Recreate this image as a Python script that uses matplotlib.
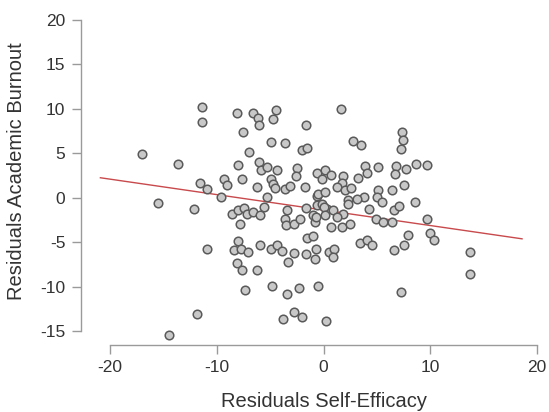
import numpy as np
import matplotlib
matplotlib.use("Agg")
import matplotlib.pyplot as plt

# residuals
self_efficacy = [
    -11.4, -11.34, -17.0, -13.65, -11.56, -10.93, -15.46, -12.12, -10.93, -11.87, -14.46,
    -8.12, -6.56, -6.09, -6.0, -4.46, -4.69, -1.62, -7.5, -4.93, -3.59, -2.02, -1.56,
    -6.94, -7.97, -6.0, -5.87, -5.3, -4.37, -2.44, -2.56, -0.62, -9.31, -9.05, -7.65,
    -4.93, -4.74, -6.24, -4.53, -3.59, -3.12, -1.72, -9.62, -5.3, -0.62, -0.62, -5.62,
    -1.62, -3.43, -8.59, -7.97, -7.43, -7.18, -6.62, -5.93, -7.81, -3.59, -3.5, -2.81,
    -2.18, -0.94, -0.78,
    -7.97, -8.43, -7.74, -7.03, -5.93, -4.93, -4.31, -3.9, -2.81, -1.62, -1.5, -0.99,
    -0.68, -0.78, -3.28, -8.06, -7.59, -6.19, -7.34, -4.78, -3.43, -2.34, -0.56, -3.84,
    -2.81, -1.97,
    1.66, 2.72, 3.5, 7.35, 7.44, 7.28, 0.16, -0.15, 0.69, 1.82, 1.72, 1.31, 2.03, 2.57,
    3.19, 3.91, 4.07, 5.15, 6.81, 6.72, 7.75, 8.69, 9.69, 7.56, 6.41, 5.06, 5.0, 5.47,
    4.22, 3.75, 3.13, 2.34, -0.56, 0.16, -0.15, 0.32, 0.88, 1.87, 8.59, 6.56, 7.03,
    4.94, 5.62, 6.41, 9.69, 0.69, 1.72, 2.5, -0.68,
    0.0, 0.16, 1.26, 2.34, 0.47, 1.0, 0.88, 3.44, 4.07, 4.54, 6.56, 7.5, 7.87, 0.22, 7.28,
    10.0, 10.31, 13.75, 13.75,
]
academic_burnout = [
    10.2, 8.5, 4.9, 3.75, 1.64, 1.01, -0.6, -1.24, -5.74, -13.06, -15.5,
    9.53, 9.53, 9.0, 8.2, 9.9, 8.9, 8.14, 7.39, 6.26, 6.15, 5.33, 5.63,
    5.14, 3.64, 4.0, 3.15, 3.45, 3.15, 3.33, 2.43, 2.77, 2.14, 1.39, 2.14,
    2.14, 1.58, 1.19, 1.13, 1.01, 1.27, 1.19, 0.07, 0.07, 0.15, -0.87, -1.06,
    -1.17, -1.35, -1.8, -1.35, -1.13, -1.8, -1.62, -1.99, -2.93, -2.36, -3.12, -2.93,
    -2.36, -1.99, -2.74,
    -4.89, -5.93, -5.74, -6.13, -5.37, -5.74, -5.37, -6.01, -6.24, -6.31, -4.5, -4.36,
    -5.74, -6.87, -7.25, -7.36, -8.11, -8.11, -10.44, -9.88, -10.81, -10.18, -9.99, -13.63,
    -12.88, -13.37,
    9.94, 6.37, 5.89, 7.39, 6.45, 5.52, 3.07, 2.14, 2.51, 2.4, 1.64, 1.19, 0.9, 1.08,
    2.25, 3.52, 2.77, 3.45, 3.52, 2.62, 3.27, 3.75, 3.64, 1.39, 0.82, 0.9, 0.07, -0.5,
    -1.24, 0.07, -0.11, -0.23, 0.45, 0.63, -0.68, -1.24, -1.35, -1.8, -0.5, -1.43, -0.98,
    -2.36, -2.74, -2.74, -2.36, -3.31, -3.31, -2.93, -2.18,
    -1.06, -1.99, -2.18, -0.68, -6.13, -5.74, -6.69, -5.11, -4.81, -5.37, -5.93, -5.37, -4.25, -13.82, -10.63,
    -3.99, -4.73, -6.13, -8.64,
]

# fitted regression line
fit_slope = -0.174
fit_intercept = -1.39
fit_x_range = [-20.9, 18.6]

x_ticks = [-20, -10, 0, 10, 20]
y_ticks = [-15, -10, -5, 0, 5, 10, 15, 20]

plt.rcParams['font.family'] = ['Liberation Sans', 'DejaVu Sans']
plt.rcParams['axes.unicode_minus'] = False
text_col = '#333333'
axis_col = '#9a9a9a'

fig = plt.figure(figsize=(5.49, 4.12), dpi=100)
ax = fig.add_axes([110 / 549, 81 / 412, 427 / 549, 311 / 412])

ax.scatter(self_efficacy, academic_burnout, s=38, facecolor='#c8c8c8',
           edgecolor='#5a5a5a', linewidth=1.1, clip_on=False, zorder=3)

lx = np.array(fit_x_range)
ax.plot(lx, fit_intercept + fit_slope * lx, color='#c84a4c', lw=1.0,
        clip_on=False, zorder=2)

ax.set_xlim(-20, 20)
ax.set_ylim(-15, 20)

# detached axes, offsets in points (29 px and 14 px at 100 dpi)
for s in ['top', 'right']:
    ax.spines[s].set_visible(False)
ax.spines['left'].set_position(('outward', 20.9))
ax.spines['bottom'].set_position(('outward', 10.3))
ax.spines['left'].set_bounds(-15, 20)
ax.spines['bottom'].set_bounds(-20, 20)
for s in ['left', 'bottom']:
    ax.spines[s].set_color(axis_col)
    ax.spines[s].set_linewidth(1.0)

ax.set_xticks(x_ticks)
ax.set_yticks(y_ticks)
ax.tick_params(colors=axis_col, labelcolor=text_col, labelsize=12.5, length=6.3, width=1.0)
ax.tick_params(axis='x', pad=4)
ax.tick_params(axis='y', pad=5)

ax.set_xlabel('Residuals Self-Efficacy', fontsize=14.5, color=text_col)
ax.set_ylabel('Residuals Academic Burnout', fontsize=14.5, color=text_col)
ax.xaxis.set_label_coords(0.501, -0.196)
ax.yaxis.set_label_coords(-0.196, 0.514)

fig.savefig('out.png', dpi=100)
